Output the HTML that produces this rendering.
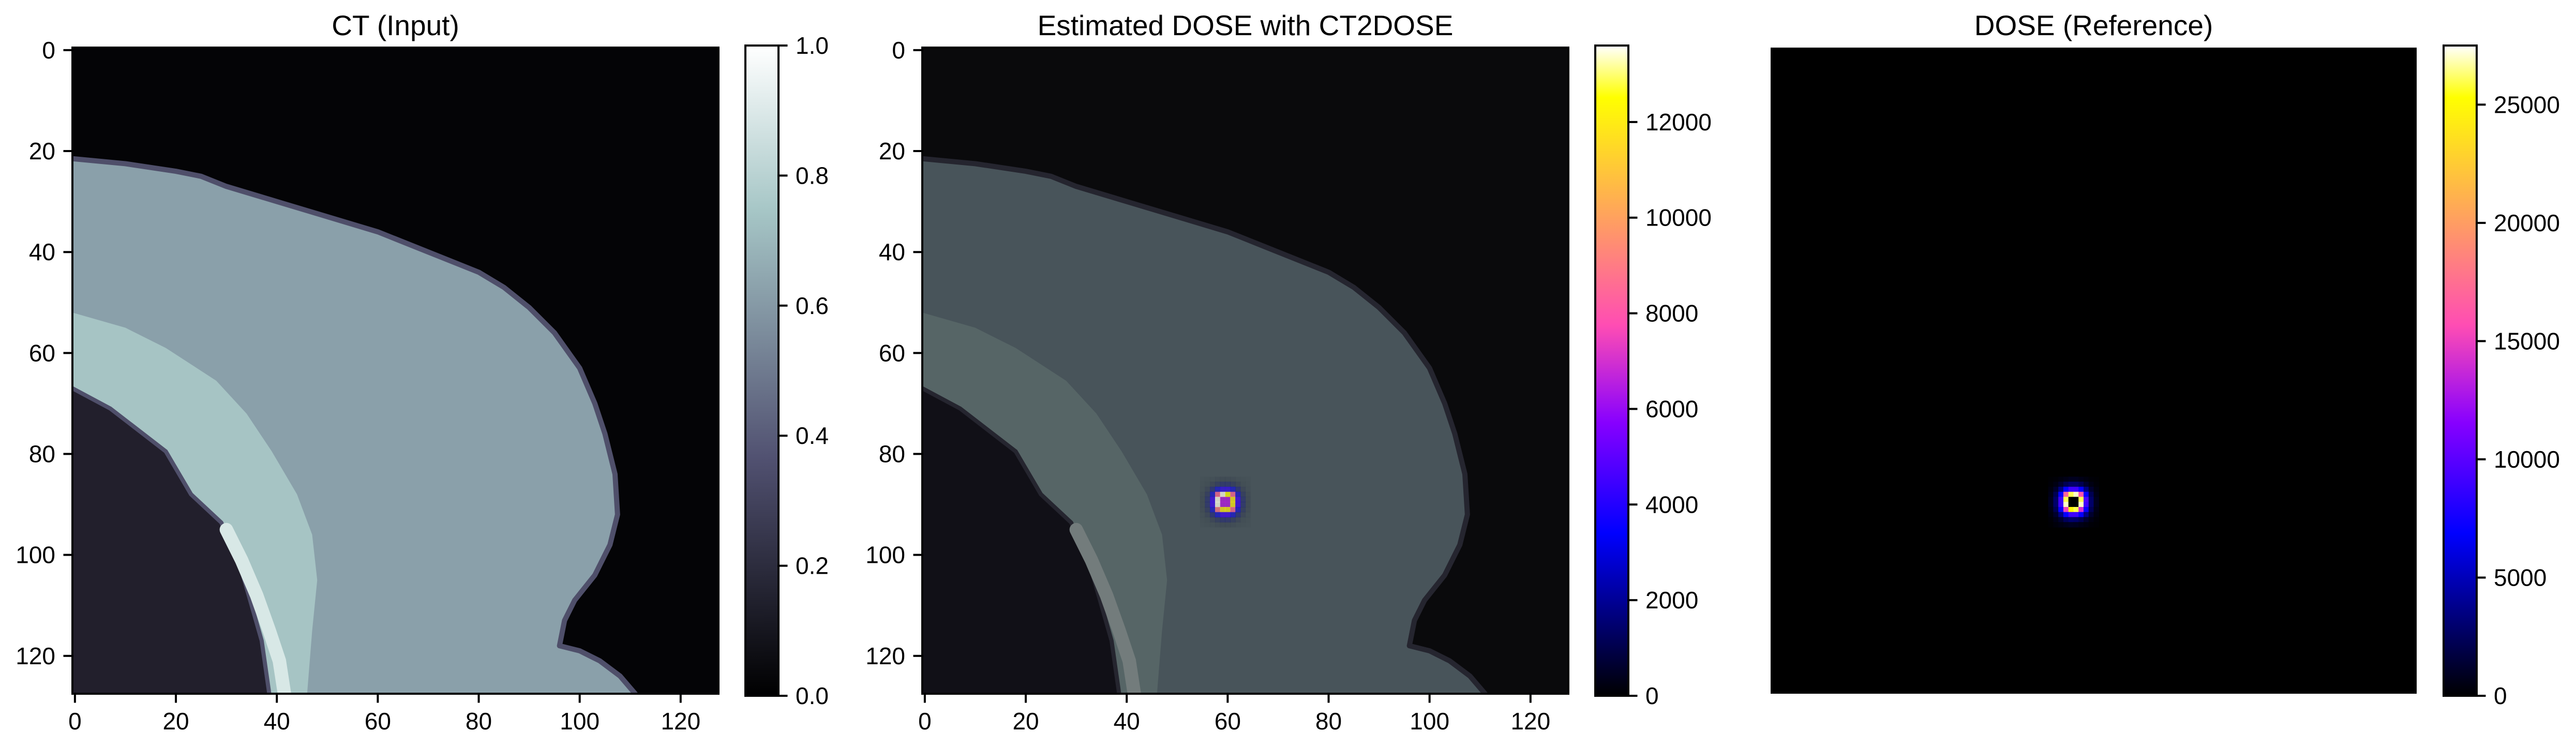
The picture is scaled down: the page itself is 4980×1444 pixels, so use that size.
<!DOCTYPE html>
<html><head><meta charset="utf-8"><style>
html,body{margin:0;padding:0;background:#fff;}
svg{display:block;font-family:"Liberation Sans","DejaVu Sans",sans-serif;}
</style></head><body>
<svg id="fig" xmlns="http://www.w3.org/2000/svg" width="4980" height="1444" viewBox="0 0 4980 1444">
<defs>
<linearGradient id="boneGrad" x1="0" y1="1" x2="0" y2="0">
<stop offset="0" stop-color="#000000"/><stop offset="0.365" stop-color="#515171"/><stop offset="0.746" stop-color="#a6c6c6"/><stop offset="1" stop-color="#ffffff"/>
</linearGradient>
<linearGradient id="gnuGrad" x1="0" y1="1" x2="0" y2="0">
<stop offset="0" stop-color="#000000"/><stop offset="0.25" stop-color="#0000ff"/><stop offset="0.42" stop-color="#8700ff"/><stop offset="0.57" stop-color="#ff4db3"/><stop offset="0.92" stop-color="#ffff00"/><stop offset="1" stop-color="#ffffff"/>
</linearGradient>
</defs>
</svg>
<script>
// ---- data ----
const ctTicks = [0,20,40,60,80,100,120];
const ctCbarTicks = [0,0.2,0.4,0.6,0.8,1.0];
const ctCbarLabels = ["0.0","0.2","0.4","0.6","0.8","1.0"];
const predMax = 13600;
const predCbarTicks = [0,2000,4000,6000,8000,10000,12000];
const refMax = 27500;
const refCbarTicks = [0,5000,10000,15000,20000,25000];
const spotOriginX = 55, spotOriginY = 85;
const refDose = [
 [100,200,400,600,800,800,600,400,200,100],
 [200,500,1200,2200,2800,2800,2200,1200,500,200],
 [400,1200,3500,7000,9000,9000,7000,3500,1200,400],
 [600,2200,7000,17000,26000,27000,16000,7000,2200,600],
 [800,2800,9000,26000,0,0,26000,9500,2800,800],
 [800,2800,9000,27000,0,0,27000,9000,2800,800],
 [600,2200,7000,15000,25000,26000,14000,7000,2200,600],
 [400,1200,3500,7000,9000,9000,7000,3500,1200,400],
 [200,600,1300,2400,3000,2800,2200,1200,500,200],
 [100,300,500,700,900,800,600,400,200,100]
];
const predDose = [
 [100,200,300,500,600,600,500,300,200,100],
 [200,400,900,1500,1900,1900,1500,900,400,200],
 [300,900,2200,3500,4200,4200,3500,2200,900,300],
 [500,1500,3500,8500,13500,12500,8500,3500,1500,500],
 [600,1900,4500,13500,6500,6500,12000,4500,1900,600],
 [600,1900,4500,13500,6500,6500,12000,4500,1900,600],
 [500,1500,3500,9000,12000,12000,8500,3500,1500,500],
 [300,900,2200,3500,4500,4500,3500,2200,900,300],
 [200,400,900,1500,1900,1900,1500,900,400,200],
 [100,200,300,500,600,600,500,300,200,100]
];
const bodyEdge = [[-0.5,21.5],[10,22.5],[20,24],[25,25],[30,27],[40,30],[50,33],[60,36],[70,40],[80,44],[85,47],[90,51],[95,56],[100,63],[103,70],[105,76],[107,84],[107.5,92],[106,98],[103,104],[99,109],[97,113],[96,118],[100,119],[104,121],[108,124],[111,127.5]];
const bandUpper = [[-0.5,52],[10,55],[18,59],[28,65.5],[34,72],[39,79.5],[44,88],[47,96],[48,105],[47,115],[46,127.5]];
const lungEdge = [[-0.5,67],[7,71],[18,79.5],[23,88],[29,93.6],[33,103],[37,117],[38.5,127.5]];
const ribLine = [[30,95],[33,101],[36,108],[38.5,115],[40.5,121],[41.5,127.5]];

// ---- layout ----
const NS="http://www.w3.org/2000/svg";
const svg=document.getElementById('fig');
const defs=svg.querySelector('defs');
const TOP=92, SIZE=1249, CELL=SIZE/128;
const FS=46;
const panels=[{x:140},{x:1783},{x:3423}];
function el(tag,attrs,parent){const e=document.createElementNS(NS,tag);for(const k in attrs)e.setAttribute(k,attrs[k]);(parent||svg).appendChild(e);return e;}
function gnu(t){t=Math.max(0,Math.min(1,t));
 const r=Math.max(0,Math.min(1,t/0.32-0.78125));
 const g=Math.max(0,Math.min(1,2*t-0.84));
 let b; if(t<0.25)b=4*t; else if(t<0.42)b=1; else if(t<0.92)b=-2*t+1.84; else b=(t-0.92)/0.08;
 return `rgb(${Math.round(r*255)},${Math.round(g*255)},${Math.round(b*255)})`;}
function clip(px,id){const c=el('clipPath',{id:id},defs);el('rect',{x:px,y:TOP,width:SIZE,height:SIZE},c);}

function drawCT(px,pal,name,cid){
 const sx=v=>px+(v+0.5)*CELL, sy=v=>TOP+(v+0.5)*CELL;
 const pts=a=>a.map(p=>sx(p[0])+','+sy(p[1])).join(' ');
 const g=el('g',{'clip-path':`url(#${cid})`});
 
 
 el('rect',{x:px,y:TOP,width:SIZE,height:SIZE,fill:pal.bg},g);
 const bodyPoly=[[-3,130],[-3,21.5],...bodyEdge,[112,130]];
 const bp=el('polygon',{points:pts(bodyPoly),fill:pal.tissue,stroke:pal.edge,'stroke-width':10,'stroke-linejoin':'round'},g);
 
 const band=[[-3,52],...bandUpper,[46,130],[38.5,130],...lungEdge.slice().reverse(),[-3,67]];
 const bd=el('polygon',{points:pts(band),fill:pal.band},g);
 
 const lung=[[-3,67],...lungEdge,[38.5,130],[-3,130]];
 const lg=el('polygon',{points:pts(lung),fill:pal.lung,stroke:pal.edge,'stroke-width':8},g);
 
 const rib=el('polyline',{points:pts(ribLine),fill:'none',stroke:pal.rib,'stroke-width':26,'stroke-linecap':'round'},g);
 
 return g;
}
function drawDose(px,mat,max,alphaFn,name){
 const g=el('g',{});
 
 
 mat.forEach((row,i)=>row.forEach((v,j)=>{
  const r=el('rect',{x:px+(spotOriginX+j)*CELL,y:TOP+(spotOriginY+i)*CELL,width:CELL+0.6,height:CELL+0.6,fill:gnu(v/max),'fill-opacity':alphaFn(v)},g);
  
  
 }));
}
function axes(px,title){
 const t=el('text',{x:px+SIZE/2,y:68,'font-size':55,'text-anchor':'middle',fill:'#000'});
 t.textContent=title;
 
 
}
function ticks(px){
 ctTicks.forEach(v=>{
  const yy=TOP+(v+0.5)*CELL, xx=px+(v+0.5)*CELL;
  el('line',{x1:px,x2:px-17.5,y1:yy,y2:yy,stroke:'#000','stroke-width':4});
  const ty=el('text',{x:px-33,y:yy+16,'font-size':FS,'text-anchor':'end'});
  ty.textContent=v;
  
  
  el('line',{x1:xx,x2:xx,y1:TOP+SIZE,y2:TOP+SIZE+17.5,stroke:'#000','stroke-width':4});
  const tx=el('text',{x:xx,y:TOP+SIZE+35+34,'font-size':FS,'text-anchor':'middle'});
  tx.textContent=v;
  
  
 });
 el('rect',{x:px,y:TOP,width:SIZE,height:SIZE,fill:'none',stroke:'#000','stroke-width':4});
}
function cbar(px,grad,tickVals,labels,max,name){
 const cx=px+1301, cy=88, cw=64, ch=1257;
 const r=el('rect',{x:cx,y:cy,width:cw,height:ch,fill:`url(#${grad})`,stroke:'#000','stroke-width':4});
 
 
 tickVals.forEach((v,i)=>{
  const yy=cy+ch-(v/max)*ch;
  el('line',{x1:cx+cw,x2:cx+cw+17.5,y1:yy,y2:yy,stroke:'#000','stroke-width':4});
  const t=el('text',{x:cx+cw+33,y:yy+16,'font-size':FS});
  t.textContent=labels[i];
  
  
 });
}
// panel 1
const p1=panels[0].x;
clip(p1,'clip1');
drawCT(p1,{bg:'#040406',tissue:'#8aa0aa',band:'#a6c4c4',lung:'#221f2c',edge:'#4f4f6a',rib:'#d8e8e6'},'ct-input-image','clip1');
ticks(p1); axes(p1,'CT (Input)');
cbar(p1,'boneGrad',ctCbarTicks,ctCbarLabels,1,'ct-colorbar');
// panel 2
const p2=panels[1].x;
clip(p2,'clip2');
drawCT(p2,{bg:'#0a0a0c',tissue:'#48545a',band:'#566566',lung:'#111017',edge:'#25252f',rib:'#737c7c'},'estimated-dose-image','clip2');
drawDose(p2,predDose,predMax,v=>Math.min(1,v/5000)*0.75,'estimated-dose-overlay');
ticks(p2); axes(p2,'Estimated DOSE with CT2DOSE');
cbar(p2,'gnuGrad',predCbarTicks,predCbarTicks.map(String),predMax,'estimated-dose-colorbar');
// panel 3
const p3=panels[2].x;
const bg3=el('rect',{x:p3,y:TOP,width:SIZE,height:SIZE,fill:'#000'});


drawDose(p3,refDose,refMax,v=>1,'reference-dose-spot');
axes(p3,'DOSE (Reference)');
cbar(p3,'gnuGrad',refCbarTicks,refCbarTicks.map(String),refMax,'reference-dose-colorbar');
</script>
</body></html>
